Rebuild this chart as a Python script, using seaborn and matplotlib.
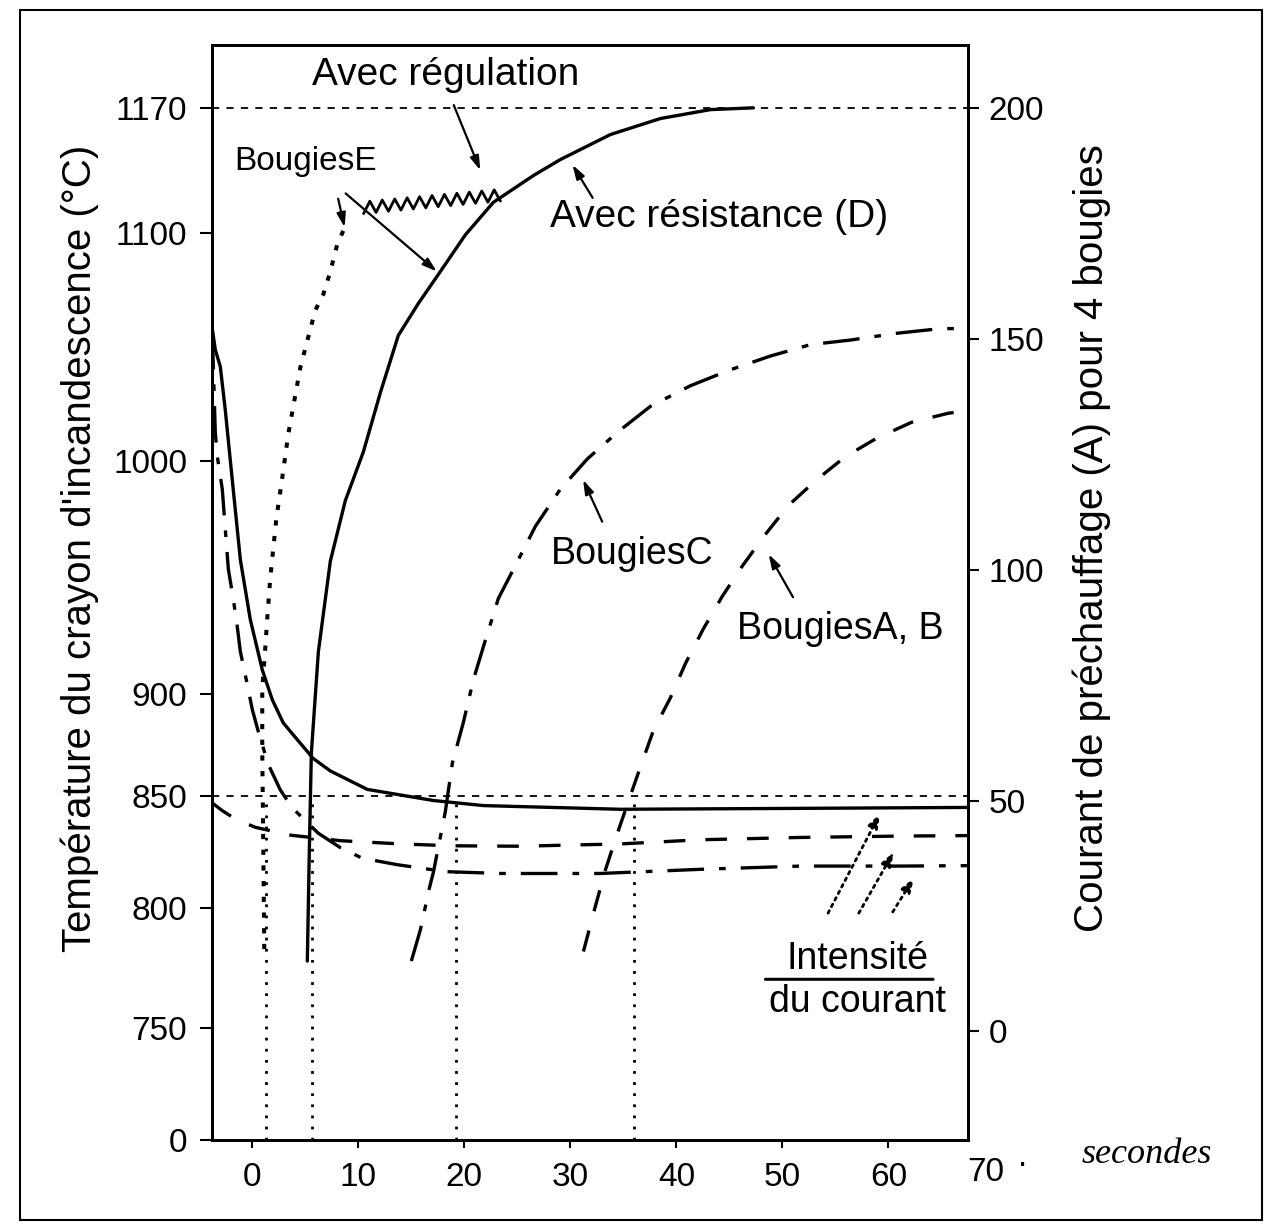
import matplotlib
matplotlib.use('Agg')

import numpy as np
import matplotlib.pyplot as plt
import seaborn as sns


# --- temperature of the glow plugs (left axis, degC) vs time (s) ---
e_time = [1.13, 1.04, 0.94, 0.94, 1.23, 1.42, 1.70, 2.26, 2.83, 3.40, 4.53, 5.94, 6.70, 7.36, 8.02, 8.58]
e_temp = [783, 826, 872, 902, 920, 933, 950, 975, 993, 1012, 1041, 1066, 1073, 1083, 1095, 1101]

d_time = [5.19, 5.38, 5.57, 6.23, 7.36, 8.77, 10.47, 12.08, 13.77, 15.66, 17.74, 20.09,
          22.74, 26.51, 29.06, 33.77, 38.49, 43.21, 47.26]
d_temp = [778, 826, 871, 918, 957, 983, 1004, 1030, 1055, 1069, 1083, 1099,
          1117, 1132, 1141, 1155, 1164, 1169, 1170]

c_time = [15.0, 15.85, 16.70, 17.08, 18.21, 18.87, 19.91, 20.85, 21.98, 23.21, 24.91, 26.70,
          29.06, 31.60, 34.53, 37.55, 41.32, 45.09, 48.87, 52.64, 56.42, 60.85, 64.91, 67.5]
c_temp = [778, 791, 809, 816, 843, 866, 886, 906, 923, 941, 956, 972,
          988, 1001, 1013, 1024, 1033, 1040, 1046, 1051, 1053, 1056, 1058, 1058]

ab_time = [31.23, 32.36, 33.30, 34.34, 35.66, 36.60, 37.83, 39.43, 40.85, 42.55, 44.34, 46.23,
           48.30, 50.57, 53.21, 55.94, 58.87, 62.17, 65.66, 67.5]
ab_temp = [782, 801, 817, 832, 850, 864, 882, 898, 913, 928, 942, 955,
           968, 981, 992, 1002, 1010, 1017, 1021, 1022]

# --- preheating current for 4 plugs (right axis, A) ---
i_d_time = [-3.8, -3.49, -3.02, -2.55, -2.08, -1.13, -0.19, 0.94, 1.89, 2.92, 4.53, 5.75,
            7.36, 10.85, 17.08, 21.79, 34.72, 51.70, 67.5]
i_d_amp = [152.6, 147.6, 144.0, 134.6, 123.8, 102.2, 89.2, 78.3, 71.8, 66.8, 62.4, 59.1,
           56.4, 52.4, 50.0, 48.9, 48.1, 48.3, 48.5]

i_c_time = [-3.77, -3.58, -3.49, -3.30, -2.83, -2.26, -1.79, -1.42, -1.13, -0.47, 0.0, 0.57,
            1.51, 2.64, 3.77, 6.23, 8.30, 10.38, 13.68, 18.21, 23.40, 32.83, 42.26, 51.70, 61.13, 67.5]
i_c_amp = [151.3, 136.8, 129.7, 124.5, 117.4, 100.1, 93.6, 87.7, 82.3, 75.1, 69.7, 64.9,
           57.8, 52.3, 48.4, 42.9, 39.8, 37.5, 36.1, 34.6, 34.2, 34.2, 35.1, 35.8, 35.8, 35.9]

i_ab_time = [-3.68, -2.83, -1.60, 0.28, 3.58, 8.30, 13.96, 18.68, 25.28, 34.72, 42.26, 51.70, 61.13, 67.5]
i_ab_amp = [49.3, 47.8, 46.0, 44.2, 42.5, 41.3, 40.6, 40.2, 40.1, 40.6, 41.5, 42.0, 42.3, 42.4]

# times at which each plug reaches 850 degC
t_850 = [1.3, 5.6, 19.2, 36.0]

temp_ticks = [0, 750, 800, 850, 900, 1000, 1100, 1170]
amp_ticks = [0, 50, 100, 150, 200]
time_ticks = [0, 10, 20, 30, 40, 50, 60]

# the printed temperature axis is not evenly spaced: piecewise scale
scale_temp = [-5000, 0, 750, 800, 850, 900, 1000, 1100, 1170, 1205, 5000]
scale_pos = [-747, 0, 112, 232, 345, 447, 680, 909, 1034, 1097, 7928]


def temp_fwd(v):
    return np.interp(v, scale_temp, scale_pos)


def temp_inv(v):
    return np.interp(v, scale_pos, scale_temp)


sns.set_theme(style='ticks')
plt.rcParams['font.family'] = ['Liberation Sans', 'DejaVu Sans']
plt.rcParams['text.color'] = 'black'
plt.rcParams['axes.labelcolor'] = 'black'
plt.rcParams['xtick.color'] = 'black'
plt.rcParams['ytick.color'] = 'black'

fig = plt.figure(figsize=(12.71, 12.28), dpi=100)
ax = fig.add_axes([0.1668, 0.0717, 0.5948, 0.8917])
ax.set_yscale('function', functions=(temp_fwd, temp_inv))
ax2 = ax.twinx()

k = 'black'
dot = (0, (1.3, 2.6))
dash = (0, (6.5, 6))
dashdot = (0, (11, 4.5, 2, 4.5))

sns.lineplot(x=e_time, y=e_temp, ax=ax, color=k, lw=2.9, linestyle=dot, sort=False, estimator=None)
sns.lineplot(x=d_time, y=d_temp, ax=ax, color=k, lw=2.4, sort=False, estimator=None)
sns.lineplot(x=c_time, y=c_temp, ax=ax, color=k, lw=2.4, linestyle=dashdot, sort=False, estimator=None)
sns.lineplot(x=ab_time, y=ab_temp, ax=ax, color=k, lw=2.4, linestyle=dash, sort=False, estimator=None)

sns.lineplot(x=i_d_time, y=i_d_amp, ax=ax2, color=k, lw=2.4, sort=False, estimator=None)
sns.lineplot(x=i_c_time, y=i_c_amp, ax=ax2, color=k, lw=2.4, linestyle=dashdot, sort=False, estimator=None)
sns.lineplot(x=i_ab_time, y=i_ab_amp, ax=ax2, color=k, lw=2.4, linestyle=dash, sort=False, estimator=None)

# reference lines
ax.axhline(850, color=k, lw=1.3, ls=(0, (4, 4)))
ax.axhline(1170, color=k, lw=1.3, ls=(0, (4, 4)))
ax.vlines(t_850, 0, 850, color=k, lw=2.0, linestyles=[(0, (1, 3))])

ax.set_xlim(-3.8, 67.5)
ax.set_ylim(0, 1205)
ax2.set_ylim(-23.5, 213.6)

ax.set_xticks(time_ticks)
ax.set_yticks(temp_ticks)
ax2.set_yticks(amp_ticks)
ax.minorticks_off()
ax2.minorticks_off()

ax.tick_params(axis='y', labelsize=24, length=9, width=1.5, pad=9, direction='out', colors=k)
ax.tick_params(axis='x', labelsize=24, length=6, width=1.5, pad=10, direction='out', colors=k)
ax2.tick_params(axis='y', labelsize=24, length=8, width=1.5, pad=7, direction='out', colors=k)

for a in (ax, ax2):
    for s in a.spines.values():
        s.set_visible(True)
        s.set_linewidth(2.0)
        s.set_color(k)

ax.set_xlabel('')
ax.set_ylabel("Température du crayon d'incandescence (°C)", fontsize=29, color=k)
ax.yaxis.set_label_coords(-0.15, 0.54)
ax2.set_ylabel('Courant de préchauffage (A) pour 4 bougies', fontsize=29, color=k)
ax2.yaxis.set_label_coords(1.138, 0.55)

xt = ax.get_xaxis_transform()
ax.text(69.2, -0.03, '70', transform=xt, ha='center', va='center', fontsize=24, clip_on=False)
ax.text(72.6, -0.022, '·', transform=xt, ha='center', va='center', fontsize=24, clip_on=False)
ax.text(84.4, -0.013, 'secondes', transform=xt, ha='center', va='center', fontsize=26,
        family='Liberation Serif', style='italic', clip_on=False)

# labels and arrows
arrow = dict(arrowstyle='-|>,head_length=0.7,head_width=0.22', color=k, lw=1.6, shrinkA=0, shrinkB=0)
ax.text(18.2, 1188, 'Avec régulation', ha='center', va='center', fontsize=28)
ax.annotate('', xy=(21.5, 1135), xytext=(19.0, 1171.5), arrowprops=arrow)

# regulation zig-zag between E and D
n_teeth = 11
zig_t = np.linspace(10.5, 23.4, 2 * n_teeth + 1)
zig_T = np.linspace(1114, 1121, 2 * n_teeth + 1) + np.where(np.arange(2 * n_teeth + 1) % 2, 3.3, -3.3)
ax.plot(zig_t, zig_T, color=k, lw=2.0)

ax.text(5.0, 1140, 'BougiesE', ha='center', va='center', fontsize=24)
ax.annotate('', xy=(8.7, 1103), xytext=(8.1, 1119), arrowprops=arrow)
ax.annotate('', xy=(17.4, 1083), xytext=(8.8, 1122), arrowprops=arrow)

ax.text(44.0, 1109, 'Avec résistance (D)', ha='center', va='center', fontsize=28)
ax.annotate('', xy=(30.2, 1138), xytext=(32.1, 1119.5), arrowprops=arrow)

ax.text(35.8, 960, 'BougiesC', ha='center', va='center', fontsize=27)
ax.annotate('', xy=(31.2, 992), xytext=(33.0, 974), arrowprops=arrow)

ax.text(55.5, 928, 'BougiesA, B', ha='center', va='center', fontsize=27)
ax.annotate('', xy=(48.7, 960), xytext=(51.0, 941.5), arrowprops=arrow)

ax.text(57.1, 779, 'Intensité', ha='center', va='center', fontsize=27)
ax.text(57.1, 761, 'du courant', ha='center', va='center', fontsize=27)
ax.annotate('', xy=(64.2, 770.4), xytext=(48.4, 770.4),
            arrowprops=dict(arrowstyle='-', color=k, lw=2.2, shrinkA=0, shrinkB=0))

dotted_arrow = dict(arrowstyle='-|>,head_length=0.7,head_width=0.25', color=k, lw=2.0,
                    linestyle=':', shrinkA=0, shrinkB=0)
ax.annotate('', xy=(59.2, 842), xytext=(54.3, 798), arrowprops=dotted_arrow)
ax.annotate('', xy=(60.5, 825), xytext=(57.2, 798), arrowprops=dotted_arrow)
ax.annotate('', xy=(62.4, 813.5), xytext=(60.4, 798.5), arrowprops=dotted_arrow)

# frame around the whole figure
fig.add_artist(plt.Rectangle((20 / 1271, 8 / 1228), 1242 / 1271, 1210 / 1228, fill=False,
                             lw=1.5, color=k, transform=fig.transFigure))

fig.savefig('out.png', dpi=100)
